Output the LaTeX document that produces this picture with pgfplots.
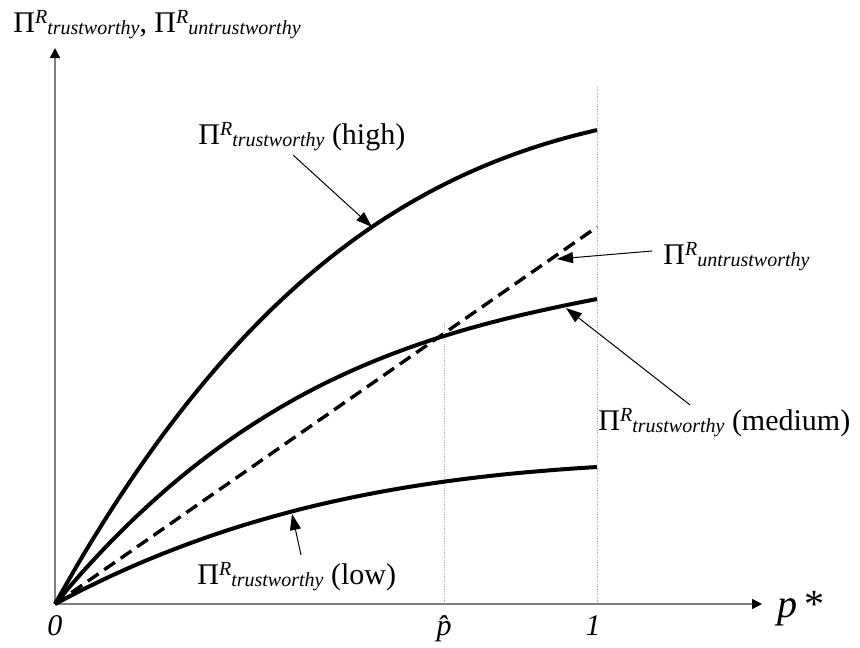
\documentclass[border=0pt]{standalone}
\usepackage{fontspec}
\setmainfont{Liberation Serif}
\usepackage{pgfplots}
\pgfplotsset{compat=1.18}
\usetikzlibrary{arrows.meta}

\newcommand\PR[1]{Π\raisebox{4.5pt}{\fontsize{10}{12}\selectfont\itshape R}\raisebox{-1pt}{\fontsize{10}{12}\selectfont\itshape #1}}

\begin{document}
\fontsize{15}{18}\selectfont
\begin{tikzpicture}[every node/.style={font=\fontsize{15}{18}\selectfont, inner sep=0pt}]
\useasboundingbox (-27.5pt,-21.5pt) rectangle (402.5pt,302pt);
\begin{axis}[at={(0,0)}, anchor=origin, x=271pt, y=271pt,
  xmin=0, xmax=1.3044, ymin=0, ymax=1.0258, hide axis, clip=false]

% guide lines
\draw[gray!55, line width=0.5pt, dash pattern=on 0.6pt off 0.6pt] (axis cs:1,0) -- (axis cs:1,0.955);
\draw[gray!55, line width=0.5pt, dash pattern=on 0.6pt off 0.6pt] (axis cs:0.718,0) -- (axis cs:0.718,0.5203);

% axes
\draw[gray, line width=0.8pt, -{Triangle[length=5pt,width=5pt,color=black]}] (axis cs:0,0) -- (axis cs:1.3044,0);
\draw[gray, line width=0.8pt, -{Triangle[length=5pt,width=5pt,color=black]}] (axis cs:0,0) -- (axis cs:0,1.0258);

% high
\addplot[black, line width=2pt, smooth] coordinates {
(0,0) (0.05,0.0868) (0.1,0.1678) (0.15,0.2432) (0.2,0.3133) (0.25,0.3782)
(0.3,0.4382) (0.35,0.4935) (0.4,0.5442) (0.45,0.5906) (0.5,0.6328) (0.55,0.6712)
(0.6,0.7059) (0.65,0.7370) (0.7,0.7649) (0.75,0.7897) (0.8,0.8116) (0.85,0.8308)
(0.9,0.8476) (0.95,0.8621) (1,0.8745)};
% medium
\addplot[black, line width=2pt, smooth] coordinates {
(0,0) (0.05,0.0581) (0.1,0.1119) (0.15,0.1614) (0.2,0.2069) (0.25,0.2487)
(0.3,0.2869) (0.35,0.3217) (0.4,0.3534) (0.45,0.3822) (0.5,0.4082) (0.55,0.4316)
(0.6,0.4527) (0.65,0.4717) (0.7,0.4888) (0.75,0.5042) (0.8,0.5181) (0.85,0.5307)
(0.9,0.5421) (0.95,0.5528) (1,0.5627)};
% untrustworthy
\addplot[black, line width=1.7pt, dash pattern=on 6.5pt off 3.5pt] coordinates {(0,0) (1,0.6956)};
% low
\addplot[black, line width=2pt, smooth] coordinates {
(0,0) (0.05,0.0260) (0.1,0.0502) (0.15,0.0726) (0.2,0.0933) (0.25,0.1124)
(0.3,0.1300) (0.35,0.1461) (0.4,0.1607) (0.45,0.1741) (0.5,0.1862) (0.55,0.1970)
(0.6,0.2068) (0.65,0.2155) (0.7,0.2232) (0.75,0.2300) (0.8,0.2360) (0.85,0.2412)
(0.9,0.2456) (0.95,0.2495) (1,0.2528)};

% labels
\node[anchor=base west] at (axis cs:-0.0775,1.0535) {\PR{trustworthy}, \PR{untrustworthy}};

\node[anchor=base west] at (axis cs:0.2638,0.8469) {\PR{trustworthy} (high)};
\draw[line width=0.5pt,-{Triangle[length=8pt,width=5.5pt]}] (axis cs:0.4391,0.8284) -- (axis cs:0.5849,0.6956);

\node[anchor=base west] at (axis cs:1.1218,0.6255) {\PR{untrustworthy}};
\draw[line width=0.5pt,-{Triangle[length=8pt,width=5.5pt]}] (axis cs:1.1015,0.6513) -- (axis cs:0.9262,0.6365);

\node[anchor=base west] at (axis cs:1.0018,0.3210) {\PR{trustworthy} (medium)};
\draw[line width=0.5pt,-{Triangle[length=8pt,width=5.5pt]}] (axis cs:1.1716,0.3672) -- (axis cs:0.9428,0.5461);

\node[anchor=base west] at (axis cs:0.2620,0.0351) {\PR{trustworthy} (low)};
\draw[line width=0.5pt,-{Triangle[length=8pt,width=5.5pt]}] (axis cs:0.4539,0.0904) -- (axis cs:0.4373,0.1661);

% axis labels
\node[anchor=base] at (axis cs:0,-0.059) {\itshape 0};
\node[anchor=base] at (axis cs:0.718,-0.059) {\itshape \^{p}};
\node[anchor=base] at (axis cs:0.9926,-0.059) {\itshape 1};
\node[anchor=base west, font=\fontsize{20}{24}\selectfont] at (axis cs:1.332,-0.024) {\itshape p\,\upshape*};
\end{axis}
\end{tikzpicture}
\end{document}
